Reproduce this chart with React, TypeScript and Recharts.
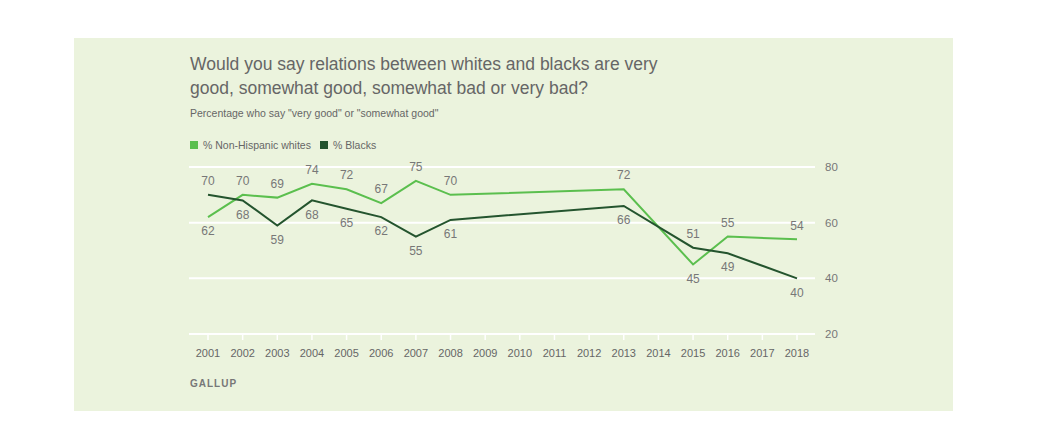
import React from "react";
import { LineChart, Line, XAxis, YAxis, CartesianGrid, LabelList } from "recharts";

const years = [2001, 2002, 2003, 2004, 2005, 2006, 2007, 2008, 2013, 2015, 2016, 2018];
const whites = [62, 70, 69, 74, 72, 67, 75, 70, 72, 45, 55, 54];
const blacks = [70, 68, 59, 68, 65, 62, 55, 61, 66, 51, 49, 40];
const yearTicks = [
  2001, 2002, 2003, 2004, 2005, 2006, 2007, 2008, 2009, 2010, 2011, 2012, 2013, 2014, 2015, 2016, 2017,
  2018,
];
const valueTicks = [20, 40, 60, 80];

const LIGHT = "#5bbf4e";
const DARK = "#24542e";
const FONT = "'Liberation Sans', Arial, sans-serif";

const data = years.map((year, i) => ({ year, whites: whites[i], blacks: blacks[i] }));

function makeLabel(series: "whites" | "blacks") {
  return (props: any) => {
    const { x, y, value, index } = props;
    const other = series === "whites" ? blacks[index] : whites[index];
    const above = value >= other;
    return (
      <text
        x={x}
        y={above ? y - 13 : y + 15}
        textAnchor="middle"
        dominantBaseline="middle"
        fill="#777"
        fontSize={12}
        fontFamily={FONT}
      >
        {value}
      </text>
    );
  };
}

export default function App() {
  return (
    <div style={{ position: "absolute", left: 0, top: 0, width: 1054, height: 440, background: "#fff", fontFamily: FONT }}>
      <div style={{ position: "absolute", left: 74, top: 38, width: 879, height: 373, background: "#ebf3dd" }} />
      <div style={{ position: "absolute", left: 190, top: 52, width: 490, fontSize: 17.5, lineHeight: "24px", color: "#666" }}>
        Would you say relations between whites and blacks are very good, somewhat good, somewhat bad or very bad?
      </div>
      <div style={{ position: "absolute", left: 190, top: 107, fontSize: 10.5, color: "#666" }}>
        Percentage who say "very good" or "somewhat good"
      </div>
      <div style={{ position: "absolute", left: 190, top: 139, fontSize: 10.5, color: "#666", display: "flex", alignItems: "center" }}>
        <span style={{ width: 8, height: 8, background: LIGHT, marginRight: 5, display: "inline-block" }} />
        <span style={{ marginRight: 9 }}>% Non-Hispanic whites</span>
        <span style={{ width: 8, height: 8, background: DARK, marginRight: 5, display: "inline-block" }} />
        <span>% Blacks</span>
      </div>
      <div style={{ position: "absolute", left: 190, top: 378, fontSize: 10, fontWeight: "bold", letterSpacing: 1, color: "#777" }}>
        GALLUP
      </div>
      <div style={{ position: "absolute", left: 0, top: 0 }}>
        <LineChart width={1054} height={440} data={data} margin={{ top: 167, left: 189, right: 209, bottom: 76 }}>
          <CartesianGrid vertical={false} stroke="#fff" strokeWidth={2} />
          <XAxis
            dataKey="year"
            type="number"
            domain={[2001, 2018]}
            ticks={yearTicks}
            interval={0}
            padding={{ left: 19, right: 18 }}
            height={30}
            axisLine={{ stroke: "#fff", strokeWidth: 2 }}
            tickLine={{ stroke: "#fff", strokeWidth: 1.5 }}
            tickSize={6}
            tickMargin={9}
            tick={{ fill: "#666", fontSize: 11, fontFamily: FONT }}
          />
          <YAxis
            orientation="right"
            domain={[20, 80]}
            ticks={valueTicks}
            width={30}
            axisLine={false}
            tickLine={false}
            tickSize={0}
            tickMargin={10}
            tick={{ fill: "#777", fontSize: 11.5, fontFamily: FONT }}
          />
          <Line dataKey="whites" stroke={LIGHT} strokeWidth={2} dot={false} isAnimationActive={false}>
            <LabelList dataKey="whites" content={makeLabel("whites")} />
          </Line>
          <Line dataKey="blacks" stroke={DARK} strokeWidth={2} dot={false} isAnimationActive={false}>
            <LabelList dataKey="blacks" content={makeLabel("blacks")} />
          </Line>
        </LineChart>
      </div>
    </div>
  );
}
